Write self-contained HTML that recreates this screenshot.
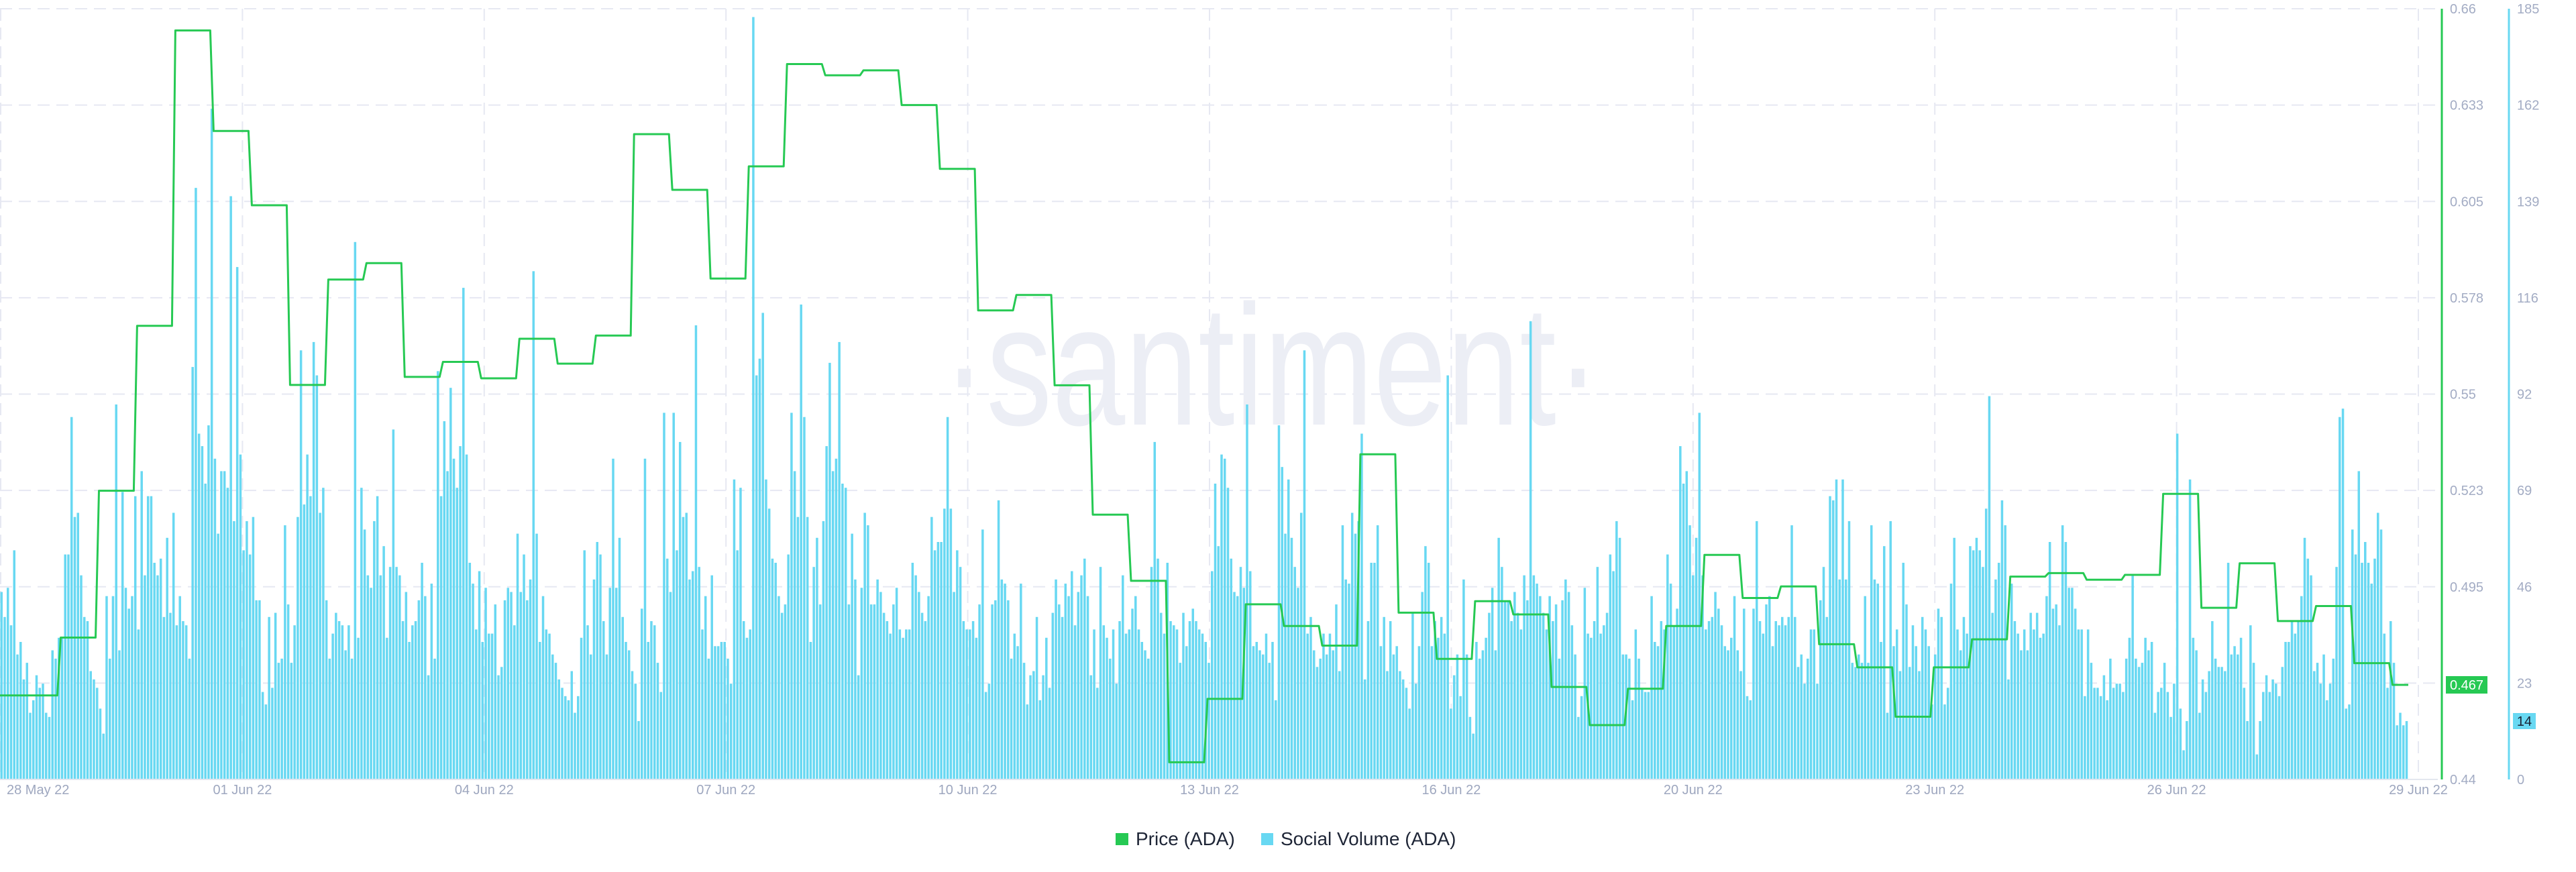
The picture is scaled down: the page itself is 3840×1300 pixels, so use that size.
<!DOCTYPE html>
<html><head><meta charset="utf-8"><title>ADA Price vs Social Volume</title>
<style>
html,body{margin:0;padding:0;background:#fff;}
body{width:3840px;height:1300px;overflow:hidden;font-family:"Liberation Sans",sans-serif;}
svg{display:block;}
</style></head>
<body>
<svg id="chart" width="3840" height="1300" viewBox="0 0 3840 1300" xmlns="http://www.w3.org/2000/svg">
  <g id="grid"></g>
  <text x="1405" y="633" font-size="256" fill="#eceef5" font-family="'Liberation Sans',sans-serif" textLength="980" lengthAdjust="spacingAndGlyphs">·santiment·</text>
  <g id="bars"></g>
  <path id="priceLine" fill="none" stroke="#26c953" stroke-width="3" stroke-linejoin="round"></path>
  <line x1="0" y1="1162" x2="3634" y2="1162" stroke="#e3e7ef" stroke-width="2"></line>
  <line x1="3640" y1="13" x2="3640" y2="1162" stroke="#26c953" stroke-width="3"></line>
  <line x1="3740" y1="13" x2="3740" y2="1162" stroke="#68d8f2" stroke-width="3"></line>
  <g id="xlabels"></g>
  <g id="plabels"></g>
  <g id="slabels"></g>
  <g>
    <rect x="3646" y="1008" width="62" height="26" fill="#26c953"></rect>
    <text x="3677" y="1028" font-size="20" fill="#fff" text-anchor="middle">0.467</text>
  </g>
  <g>
    <rect x="3746" y="1063" width="34" height="24" fill="#68d8f2"></rect>
    <text x="3763" y="1082" font-size="20" fill="#1a2233" text-anchor="middle">14</text>
  </g>
  <g>
    <g>
      <rect x="1663" y="1242" width="19" height="18" fill="#26c953"></rect>
      <text x="1693" y="1260" font-size="28" fill="#1e2536">Price (ADA)</text>
    </g>
    <g>
      <rect x="1880" y="1242" width="18" height="18" fill="#68d8f2"></rect>
      <text x="1909" y="1260" font-size="28" fill="#1e2536">Social Volume (ADA)</text>
    </g>
  </g>
</svg>
<script>
const xTickLabels = ["28 May 22","01 Jun 22","04 Jun 22","07 Jun 22","10 Jun 22","13 Jun 22","16 Jun 22","20 Jun 22","23 Jun 22","26 Jun 22","29 Jun 22"];
const priceTicks = ["0.44","0.468","0.495","0.523","0.55","0.578","0.605","0.633","0.66"];
const socialTicks = ["0","23","46","69","92","116","139","162","185"];
const priceValues = [0.464,0.4805,0.5224,0.5695,0.6538,0.6251,0.6039,0.5526,0.5827,0.5874,0.5549,0.5592,0.5545,0.5658,0.5587,0.5667,0.6242,0.6083,0.583,0.615,0.6442,0.641,0.6424,0.6325,0.6143,0.5739,0.5783,0.5525,0.5156,0.4967,0.4449,0.463,0.490,0.4838,0.4782,0.5328,0.4876,0.4744,0.4909,0.4871,0.4664,0.4555,0.4659,0.4838,0.5041,0.4918,0.4951,0.4786,0.4720,0.4579,0.4720,0.4800,0.4979,0.4989,0.4970,0.4984,0.5215,0.4890,0.5017,0.4852,0.4895,0.4732,0.467];
const socialA = [45,39,46,37,55,30,33,24,28,16,19,25,22,23,16,15,31,29,34,34,54,54,87,63,64,49,39,38,26,24,22,17,11,44,29,44,90,31,69,46,41,44,68,36,74,49,68,68,52,49,53,39,58,40,64,37,44,38,37,29,99,142,83,80,71,85,161,77,59,74,74,70,140,62,123,78,55,62,54,63,43,43,21,18,39,22,40,28,29,61,42,28,37,63,103,66,78,68,105,97,64,70,43,29,35,40,38,37,31,37,29,129,34,70,60,49,46,62,68,49,56,34,51,84,51,49,38,45,33,37,38,43,52,44,25,47,29,98,68,86,74,94,77,70,80,118,78,52,47,36,50,33,46,35,35,42,25,27,43,46,45,37,59,45,54,43,48,122,59,33,44,36,35,30,28,24,22,20,19,26,16,20,34,55,37,30,48,57,54,38,30,46,77,46,58,39,33,31,26,23,14,41,77,33,38,37,28,21,88,53,45];
const socialB = [88,55,81,63,64,48,50,109,51,36,44,29,49,32,32,33,33,29,23,72,55,70,38,34,36,183,97,101,112,72,65,53,52,44,40,42,54,88,74,63,114,87,63,33,51,58,42,62,80,100,74,77,105,71,70,42,59,48,25,46,64,61,42,42,48,45,40,38,35,42,46,36,34,36,36,52,49,45,40,38,44,63,55,57,57,65,87,65,45,55,51,38,36,36,38,34,42,60,21,23,42,43,67,48,47,43,29,35,32,47,28,18,25,26,39,19,25,34,22,40,48,42,39,47,44,50,37,45,49,53,44,25,36,22,51,37,34,29,36,23,38,49,35,36,41,44,36,33,31,29,51,81,53,40,35,52,38,37,36,28,40,32,38,41,38,36,35,33,28,50,71,56,78,77,70,53,45,44,51,46,90,50,32,33,31,30,35,28,33,19];
const socialC = [85,75,59,72,58,51,46,64,103,35,39,31,27,29,35,30,35,31,42,26,61,48,47,64,59,62,83,24,38,52,52,61,32,39,26,38,30,32,26,24,22,17,40,23,32,45,56,52,32,38,34,39,35,97,17,25,30,20,48,30,15,11,33,29,31,34,40,46,31,58,51,43,43,38,45,40,36,49,43,110,49,47,44,40,36,44,38,42,29,43,48,45,37,30,15,20,46,35,34,38,51,35,37,40,54,50,62,58,30,30,29,19,36,29,22,21,21,44,33,32,38,36,54,47,37,41,80,71,74,61,49,58,88,49,36,38,39,45,41,37,32,31,34,44,31,26,41,20,19,41,62,38,35,42,44,32,38,37,39,37,39,61,39,27,30,23,29,36,36,23,43,51,39,68,67,72,48,72,48,62,28,27,30,28,44,28,61,48];
const socialD = [47,33,56,16,62,32,36,26,52,42,27,37,32,26,39,36,32,18,30,41,39,18,22,47,58,36,31,39,35,56,55,58,55,51,65,92,40,48,52,67,61,24,47,38,35,31,36,31,40,36,40,34,35,44,57,41,42,37,61,57,46,46,41,36,36,20,36,28,22,22,20,25,19,29,22,23,23,21,29,34,49,29,27,28,34,31,33,16,21,22,28,21,15,23,83,17,7,14,72,34,31,16,24,21,26,38,29,27,27,26,52,30,32,30,34,22,14,37,28,6,14,21,25,21,24,23,20,27,33,33,38,35,38,44,58,53,49,26,28,23,30,19,23,29,51,87,89,17,18,60,54,74,52,57,52,47,53,64,60,35,22,38,28,13,16,13,14];
const socialValues = socialA.concat(socialB, socialC, socialD);

const NS = "http://www.w3.org/2000/svg";
const PLOT_L = 0, PLOT_R = 3590, GRID_R = 3634, TOP = 13, BOT = 1162;
const HOURS = 756;
const xHour = h => PLOT_L + h * (PLOT_R - PLOT_L) / HOURS;
const yPrice = v => BOT - (v - 0.44) / (0.66 - 0.44) * (BOT - TOP);
const ySocial = v => BOT - v / 185 * (BOT - TOP);
function mk(tag, attrs, parent){const e=document.createElementNS(NS,tag);for(const k in attrs)e.setAttribute(k,attrs[k]);parent.appendChild(e);return e;}

const grid = document.getElementById('grid');
for (let i = 0; i < priceTicks.length; i++) {
  const y = BOT - i * (BOT - TOP) / (priceTicks.length - 1);
  const l = mk('line',{x1:0,y1:y,x2:GRID_R,y2:y,stroke:'#e6e8f2','stroke-width':2,'stroke-dasharray':'18 10'},grid);
  
  
}
const xStep = 360.4;
for (let i = 0; i < xTickLabels.length; i++) {
  const x = 1 + i * xStep;
  const l = mk('line',{x1:x,y1:TOP,x2:x,y2:BOT,stroke:'#e6e8f2','stroke-width':2,'stroke-dasharray':'18 10'},grid);
  
  
  const t = mk('text',{x: i===0 ? 10 : x, y:1184,'font-size':20,fill:'#9ea7bf','text-anchor': i===0?'start':'middle'},document.getElementById('xlabels'));
  
  
  t.textContent = xTickLabels[i];
}
for (let i = 0; i < priceTicks.length; i++) {
  const y = BOT - i * (BOT - TOP) / (priceTicks.length - 1);
  const t = mk('text',{x:3652,y:y+7,'font-size':20,fill:'#a3acc4'},document.getElementById('plabels'));
  
  
  t.textContent = priceTicks[i];
  const s = mk('text',{x:3752,y:y+7,'font-size':20,fill:'#a3acc4'},document.getElementById('slabels'));
  
  
  s.textContent = socialTicks[i];
}
const bars = document.getElementById('bars');
const bStep = (PLOT_R - PLOT_L) / HOURS;
for (let i = 0; i < socialValues.length; i++) {
  const y = ySocial(socialValues[i]);
  const r = mk('rect',{x:(xHour(i) + 0.5).toFixed(2),y:y.toFixed(1),width:(bStep*0.74).toFixed(2),height:(BOT-y).toFixed(1),fill:'#68d8f2'},bars);
  
  
}
let d = '';
for (let i = 0; i < priceValues.length; i++) {
  const h0 = i === 0 ? 0 : 6 + 12 * i;
  const h1 = i === priceValues.length - 1 ? HOURS : 6 + 12 * (i + 1);
  const y = yPrice(priceValues[i]).toFixed(1);
  const x0 = i === 0 ? xHour(h0) : xHour(h0) + 5;
  d += (i === 0 ? 'M' : 'L') + x0.toFixed(1) + ' ' + y + ' L' + xHour(h1).toFixed(1) + ' ' + y + ' ';
}
document.getElementById('priceLine').setAttribute('d', d);
</script>
</body></html>
